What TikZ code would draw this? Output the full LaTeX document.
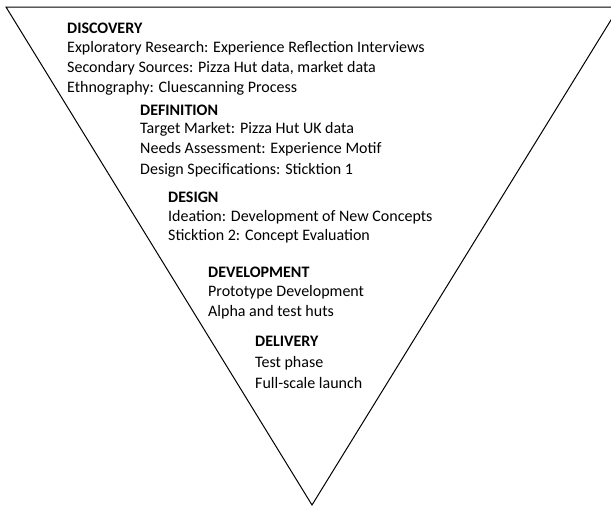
\documentclass[tikz,border=0pt]{standalone}
\usepackage{fontspec}
\setmainfont{Carlito}
\begin{document}
\begin{tikzpicture}[x=1pt,y=-1pt,
  txt/.style={anchor=base west,inner sep=0pt,font=\fontsize{16}{19}\selectfont},
  hd/.style={txt,font=\fontsize{16}{19}\selectfont\bfseries}]
\useasboundingbox (0,0) rectangle (611,506);
\coordinate (tl) at (6,7);
\coordinate (tr) at (619,7);
\coordinate (bt) at (312,505);
\draw[line width=1pt,line join=miter] (tl) -- (tr) -- (bt) -- cycle;
% Discovery
\node[hd]  (a0) at (67,33) {DISCOVERY};
\node[txt] (a1) at (67,52) {Exploratory Research: Experience Reflection Interviews};
\node[txt] (a2) at (67,72) {Secondary Sources: Pizza Hut data, market data};
\node[txt] (a3) at (67,92) {Ethnography: Cluescanning Process};
% Definition
\node[hd]  (b0) at (140,115) {DEFINITION};
\node[txt] (b1) at (140,133) {Target Market: Pizza Hut UK data};
\node[txt] (b2) at (140,153) {Needs Assessment: Experience Motif};
\node[txt] (b3) at (140,174) {Design Specifications: Sticktion 1};
% Design
\node[hd]  (c0) at (168,202) {DESIGN};
\node[txt] (c1) at (168,221) {Ideation: Development of New Concepts};
\node[txt] (c2) at (168,240) {Sticktion 2: Concept Evaluation};
% Development
\node[hd]  (e0) at (208,277) {DEVELOPMENT};
\node[txt] (e1) at (208,296) {Prototype Development};
\node[txt] (e2) at (208,316) {Alpha and test huts};
% Delivery
\node[hd]  (f0) at (255,346) {DELIVERY};
\node[txt] (f1) at (255,367) {Test phase};
\node[txt] (f2) at (255,388) {Full-scale launch};
\end{tikzpicture}
\end{document}
